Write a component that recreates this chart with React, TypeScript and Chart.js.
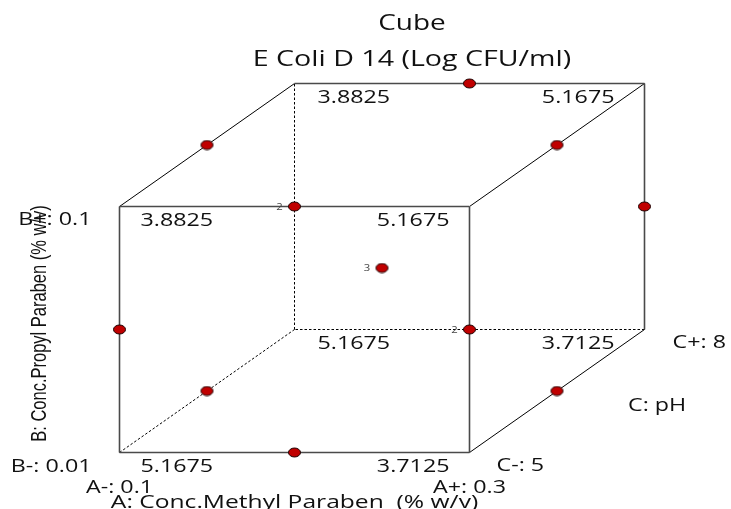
import React, { useEffect, useRef } from "react";
import { Chart, registerables } from "chart.js";

Chart.register(...registerables);

// ---- Data (coded factor levels: -1 low, 0 centre, +1 high) ----
const cornerA = [-1, 1, -1, 1, -1, 1, -1, 1];
const cornerB = [1, 1, -1, -1, 1, 1, -1, -1];
const cornerC = [-1, -1, -1, -1, 1, 1, 1, 1];
const cornerValues = ["3.8825", "5.1675", "5.1675", "3.7125", "3.8825", "5.1675", "5.1675", "3.7125"];

const runA = [0, -1, 1, 0, 1, 0, -1, 1, -1, 1, 0];
const runB = [1, 1, 1, 1, 0, 0, 0, 0, -1, -1, -1];
const runC = [1, 0, 0, -1, 1, 0, -1, -1, 0, 0, -1];
const runReplicates = [1, 1, 1, 2, 1, 3, 1, 2, 1, 1, 1];

const solidEdges = [[0, 1], [1, 3], [3, 2], [2, 0], [4, 5], [5, 7]];
const depthEdges = [[0, 4], [1, 5], [3, 7]];
const hiddenEdges = [[7, 6], [6, 4], [2, 6]];

const titleText = "Cube";
const subtitleText = "E Coli D 14 (Log CFU/ml)";
const factorAName = "A: Conc.Methyl Paraben  (% w/v)";
const factorBName = "B: Conc.Propyl Paraben (% w/v)";
const factorCName = "C: pH";
const factorALow = "A-: 0.1";
const factorAHigh = "A+: 0.3";
const factorBLow = "B-: 0.01";
const factorBHigh = "B+: 0.1";
const factorCLow = "C-: 5";
const factorCHigh = "C+: 8";

// ---- projection of the cube into the 2-D chart plane ----
const DEPTH = 0.5;
const proj = (a: number, b: number, c: number) => ({ x: a + DEPTH * c, y: b + DEPTH * c });
const cornerPt = (i: number) => proj(cornerA[i], cornerB[i], cornerC[i]);

const SX = 1.33; // horizontal stretch of the reference rendering
const FONT = "'Open Sans', 'Noto Sans', sans-serif";

function makeDot(): HTMLCanvasElement {
  const c = document.createElement("canvas");
  c.width = 15;
  c.height = 11;
  const g = c.getContext("2d")!;
  g.beginPath();
  g.ellipse(7.5, 5.5, 6, 4.5, 0, 0, Math.PI * 2);
  g.fillStyle = "#C00000";
  g.fill();
  g.lineWidth = 1;
  g.strokeStyle = "#1a0000";
  g.stroke();
  return c;
}

function drawText(
  ctx: CanvasRenderingContext2D,
  s: string,
  x: number,
  y: number,
  align: CanvasTextAlign,
  size: number,
  color = "#111",
  family = FONT,
  rotate = 0
) {
  ctx.save();
  ctx.translate(x, y);
  ctx.scale(SX, 1);
  if (rotate) ctx.rotate(rotate);
  ctx.font = `${size}px ${family}`;
  ctx.textAlign = align;
  ctx.textBaseline = "middle";
  ctx.fillStyle = color;
  ctx.fillText(s, 0, 0);
  ctx.restore();
}

const labelPlugin = {
  id: "cubeLabels",
  afterDatasetsDraw(chart: any) {
    const ctx: CanvasRenderingContext2D = chart.ctx;
    const xs = chart.scales.x;
    const ys = chart.scales.y;
    const px = (p: { x: number; y: number }) => ({ x: xs.getPixelForValue(p.x), y: ys.getPixelForValue(p.y) });

    // titles
    drawText(ctx, titleText, 412, 24, "center", 21);
    drawText(ctx, subtitleText, 412, 60, "center", 21.5);

    // corner response values
    for (let i = 0; i < cornerValues.length; i++) {
      const p = px(cornerPt(i));
      const left = cornerA[i] < 0;
      const front = cornerC[i] < 0;
      const dx = left ? (front ? 21 : 23) : front ? -20 : -30;
      drawText(ctx, cornerValues[i], p.x + dx, p.y + 15, left ? "left" : "right", 17.5);
    }

    // replicate counts
    for (let i = 0; i < runA.length; i++) {
      if (runReplicates[i] > 1) {
        const p = px(proj(runA[i], runB[i], runC[i]));
        drawText(ctx, String(runReplicates[i]), p.x - 15, p.y + 1, "center", 8.5, "#444");
      }
    }

    // factor labels
    const ftl = px(proj(-1, 1, -1));
    const fbl = px(proj(-1, -1, -1));
    const fbr = px(proj(1, -1, -1));
    const bbr = px(proj(1, -1, 1));
    const fbm = px(proj(0, -1, -1));
    const flm = px(proj(-1, 0, -1));
    const rbm = px(proj(1, -1, 0));

    drawText(ctx, factorBHigh, ftl.x - 28, ftl.y + 14, "right", 17.5);
    drawText(ctx, factorBLow, fbl.x - 28, fbl.y + 15, "right", 17.5);
    drawText(ctx, factorALow, fbl.x, fbl.y + 36, "center", 17.5);
    drawText(ctx, factorAHigh, fbr.x, fbr.y + 36, "center", 17.5);
    drawText(ctx, factorAName, fbm.x, fbm.y + 50, "center", 18.5);
    drawText(ctx, factorCLow, fbr.x + 27, fbr.y + 14, "left", 17.5);
    drawText(ctx, factorCHigh, bbr.x + 28, bbr.y + 14, "left", 17.5);
    drawText(ctx, factorCName, rbm.x + 71, rbm.y + 15, "left", 17.5);
    drawText(ctx, factorBName, flm.x - 80, flm.y - 6, "center", 16.5, "#111", "'Liberation Sans', Arial, sans-serif", -Math.PI / 2);
  },
};

export default function App() {
  const ref = useRef<HTMLCanvasElement | null>(null);

  useEffect(() => {
    if (!ref.current) return;
    const dot = makeDot();

    const edgeSet = (edges: number[][], color: string, width: number, dash: number[]) =>
      edges.map(([i, j]) => ({
        type: "scatter" as const,
        data: [cornerPt(i), cornerPt(j)],
        showLine: true,
        borderColor: color,
        borderWidth: width,
        borderDash: dash,
        pointRadius: 0,
        pointHoverRadius: 0,
        fill: false,
        clip: false as any,
        order: 1,
      }));

    const chart = new Chart(ref.current, {
      type: "scatter",
      data: {
        datasets: [
          {
            data: runA.map((a, i) => proj(a, runB[i], runC[i])),
            pointStyle: dot as any,
            pointRadius: 6,
            showLine: false,
            clip: false as any,
            order: 0,
          },
          ...edgeSet(solidEdges, "#4a4a4a", 1.6, []),
          ...edgeSet(depthEdges, "#000000", 1, []),
          ...edgeSet(hiddenEdges, "#000000", 1, [2.5, 2]),
        ] as any,
      },
      options: {
        animation: false,
        responsive: false,
        layout: { padding: { left: 119.5, right: 86.5, top: 83.5, bottom: 56.5 } },
        scales: {
          x: { type: "linear", min: -1.5, max: 1.5, display: false },
          y: { type: "linear", min: -1.5, max: 1.5, display: false },
        },
        plugins: { legend: { display: false }, tooltip: { enabled: false }, title: { display: false } },
        events: [],
      },
      plugins: [labelPlugin],
    });
    return () => chart.destroy();
  }, []);

  return (
    <div style={{ position: "absolute", left: 0, top: 0, width: 731, height: 509, background: "#fff" }}>
      <canvas ref={ref} width={731} height={509} style={{ display: "block" }} />
    </div>
  );
}
